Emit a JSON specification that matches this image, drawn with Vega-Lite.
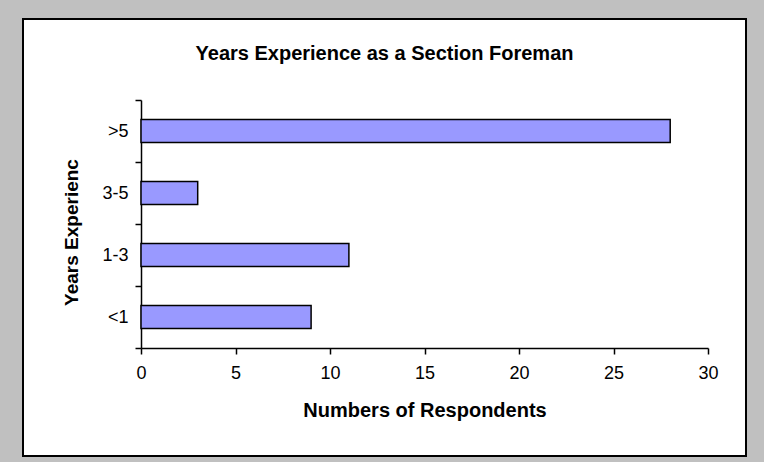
{
  "$schema": "https://vega.github.io/schema/vega-lite/v6.json",
  "width": 723,
  "height": 437,
  "autosize": {"type": "none"},
  "padding": {"left": 23, "top": 19, "right": 18, "bottom": 6},
  "background": "#c0c0c0",
  "title": {
    "text": "Years Experience as a Section Foreman",
    "anchor": "middle",
    "frame": "group",
    "offset": -54,
    "font": "Liberation Sans",
    "fontSize": 20,
    "fontWeight": "bold",
    "color": "black"
  },
  "data": {
    "values": [
      {"experience": ">5", "respondents": 28},
      {"experience": "3-5", "respondents": 3},
      {"experience": "1-3", "respondents": 11},
      {"experience": "<1", "respondents": 9}
    ]
  },
  "mark": {"type": "bar", "fill": "#9999ff", "stroke": "black", "strokeWidth": 1.5, "height": {"band": 0.37}},
  "encoding": {
    "y": {
      "field": "experience",
      "type": "nominal",
      "sort": [">5", "3-5", "1-3", "<1"],
      "scale": {"range": [81, 329], "paddingInner": 0, "paddingOuter": 0},
      "axis": {
        "title": "Years Experienc",
        "offset": -118,
        "tickBand": "extent",
        "tickSize": 6,
        "labelPadding": 7,
        "titlePadding": 20,
        "titleY": 213
      }
    },
    "x": {
      "field": "respondents",
      "type": "quantitative",
      "scale": {"domain": [0, 30], "range": [118, 685], "nice": false},
      "axis": {
        "title": "Numbers of Respondents",
        "offset": -108,
        "values": [0, 5, 10, 15, 20, 25, 30],
        "tickSize": 6,
        "labelPadding": 10,
        "titlePadding": 18,
        "titleFontSize": 20,
        "labelFlush": false,
        "labelOverlap": false
      }
    }
  },
  "config": {
    "view": {"fill": "white", "stroke": "black", "strokeWidth": 2},
    "axis": {
      "grid": false,
      "domainColor": "black",
      "domainWidth": 1.5,
      "tickColor": "black",
      "tickWidth": 1.5,
      "labelFont": "Liberation Sans",
      "labelFontSize": 18,
      "labelColor": "black",
      "titleFont": "Liberation Sans",
      "titleFontSize": 19,
      "titleFontWeight": "bold",
      "titleColor": "black"
    }
  }
}
